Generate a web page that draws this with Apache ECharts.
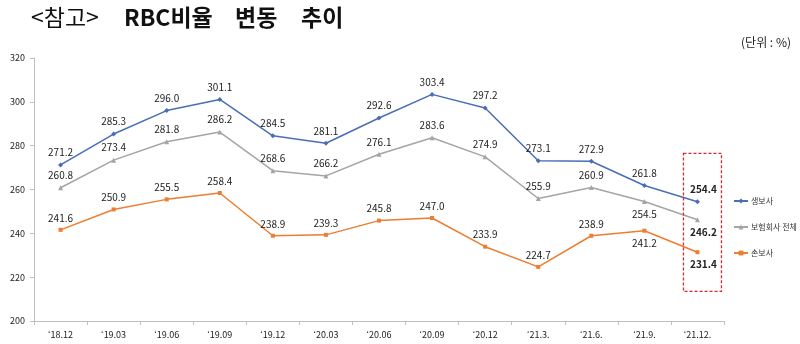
<!DOCTYPE html>
<html><head><meta charset="utf-8">
<script src="https://cdn.jsdelivr.net/npm/echarts@6/dist/echarts.min.js"></script>
<style>html,body{margin:0;padding:0;background:#fff}#c{width:800px;height:344px}</style>
</head><body><div id="c"></div>
<script>
const categories = ["‘18.12","‘19.03","‘19.06","‘19.09","‘19.12","‘20.03","‘20.06","‘20.09","‘20.12","‘21.3.","‘21.6.","‘21.9.","‘21.12."];
const lifeValues = [271.2,285.3,296.0,301.1,284.5,281.1,292.6,303.4,297.2,273.1,272.9,261.8,254.4];
const totalValues = [260.8,273.4,281.8,286.2,268.6,266.2,276.1,283.6,274.9,255.9,260.9,254.5,246.2];
const nonlifeValues = [241.6,250.9,255.5,258.4,238.9,239.3,245.8,247.0,233.9,224.7,238.9,241.2,231.4];
const seriesNames = ["생보사","보험회사 전체","손보사"];
const yTicks = {min:200, max:320, interval:20};
const boxRange = [276.5, 213.5];

const chart = echarts.init(document.getElementById('c'), null, {renderer:'canvas'});
const font = "'Noto Sans CJK KR', 'Noto Sans', sans-serif";
const colors = ['#4a6eb5','#a5a5a5','#ed7d31'];

function mkData(vals, belowIdx){
  const n = vals.length;
  return vals.map((v,i)=>{
    const d = {value:v};
    const last = i===n-1;
    const below = belowIdx.includes(i);
    if (below || last){
      d.label = {position: below ? 'bottom' : 'top'};
      if (last){ d.label.fontWeight='bold'; d.label.offset=[6,0]; }
    }
    return d;
  });
}

const titleStyle = (w)=>({fontSize:23, fontWeight:w, color:'#111', fontFamily:font});
const option = {
  animation:false,
  textStyle:{fontFamily:font},
  title:[
    {left:26, top:1, text:'<참고>', textStyle:titleStyle('normal')},
    {left:119, top:1, text:'RBC비율', textStyle:titleStyle('bold')},
    {left:230, top:1, text:'변동', textStyle:titleStyle('bold')},
    {left:296, top:1, text:'추이', textStyle:titleStyle('bold')},
    {right:4, top:31, text:'(단위 : %)',
     textStyle:{fontSize:12, fontWeight:'normal', color:'#222', fontFamily:font}}
  ],
  legend:{
    orient:'vertical', left:733, top:197, itemGap:18, padding:0,
    itemWidth:14, itemHeight:6,
    textStyle:{fontSize:8, color:'#333', padding:[0,0,0,-2]},
    data:seriesNames.map(n=>({name:n}))
  },
  grid:{left:34, right:76, top:58, bottom:23},
  xAxis:{
    type:'category', data:categories, boundaryGap:true,
    axisLine:{lineStyle:{color:'#bfbfbf'}},
    axisTick:{show:true, length:4, lineStyle:{color:'#bfbfbf'}},
    axisLabel:{fontSize:9, color:'#222', margin:9}
  },
  yAxis:{
    type:'value', min:yTicks.min, max:yTicks.max, interval:yTicks.interval,
    axisLine:{show:true, lineStyle:{color:'#bfbfbf'}},
    axisTick:{show:true, length:4, lineStyle:{color:'#bfbfbf'}},
    splitLine:{show:false},
    axisLabel:{fontSize:9, color:'#222', margin:9}
  },
  series:[
    {name:seriesNames[0], type:'line', data:mkData(lifeValues,[]), color:colors[0],
     symbol:'diamond', symbolSize:5, lineStyle:{width:1.5},
     label:{show:true, position:'top', fontSize:10, color:'#222', distance:5, formatter:p=>p.value.toFixed(1)}},
    {name:seriesNames[1], type:'line', data:mkData(totalValues,[11,12]), color:colors[1],
     symbol:'triangle', symbolSize:5, lineStyle:{width:1.5},
     label:{show:true, position:'top', fontSize:10, color:'#222', distance:5, formatter:p=>p.value.toFixed(1)}},
    {name:seriesNames[2], type:'line', data:mkData(nonlifeValues,[11,12]), color:colors[2],
     symbol:'rect', symbolSize:4, lineStyle:{width:1.5},
     label:{show:true, position:'top', fontSize:10, color:'#222', distance:5, formatter:p=>p.value.toFixed(1)}}
  ]
};
chart.setOption(option);

const lastCat = categories[categories.length-1];
const pTop = chart.convertToPixel({gridIndex:0}, [lastCat, boxRange[0]]);
const pBot = chart.convertToPixel({gridIndex:0}, [lastCat, boxRange[1]]);
const half = 19;
chart.setOption({graphic:[{
  type:'rect', z:100,
  shape:{x:pTop[0]-half+5, y:pTop[1], width:half*2, height:pBot[1]-pTop[1]},
  style:{fill:'none', stroke:'#e0262b', lineWidth:1.3, lineDash:[3,2]}
}]});
</script></body></html>
